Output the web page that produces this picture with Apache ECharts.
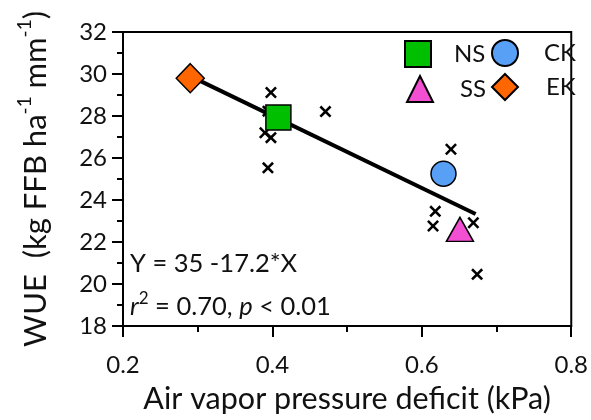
<!DOCTYPE html>
<html>
<head>
<meta charset="utf-8">
<script src="https://cdn.jsdelivr.net/npm/echarts@6/dist/echarts.min.js"></script>
<style>
  html, body { margin: 0; padding: 0; background: #fff; }
  #chart { width: 591px; height: 420px; }
</style>
</head>
<body>
<div id="chart"></div>
<script>
// Individual plot observations (VPD in kPa, WUE)
const obsVpd = [0.398, 0.471, 0.390, 0.398, 0.394, 0.394, 0.639, 0.618, 0.615, 0.669, 0.674];
const obsWue = [29.12, 28.21, 27.20, 26.97, 25.53, 28.23, 26.42, 23.46, 22.76, 22.92, 20.46];

// Group means
const groupNames = ['NS', 'CK', 'SS', 'EK'];
const groupVpd = [0.408, 0.629, 0.651, 0.290];
const groupWue = [27.93, 25.25, 22.60, 29.80];

// Fitted regression line end points
const fitVpd = [0.290, 0.672];
const fitWue = [29.90, 23.33];

// Axis ticks
const xTicks = [0.2, 0.4, 0.6, 0.8];
const yTicks = [18, 20, 22, 24, 26, 28, 30, 32];

const FONT = 'Lato';
const crossPath = 'path://M0,1.5 L1.5,0 L5,3.5 L8.5,0 L10,1.5 L6.5,5 L10,8.5 L8.5,10 L5,6.5 L1.5,10 L0,8.5 L3.5,5 Z';

const groupStyle = {
  NS: { symbol: 'rect', size: 25, color: '#00bf00' },
  CK: { symbol: 'circle', size: 25, color: '#58a0f6' },
  SS: { symbol: 'triangle', size: [27, 24], color: '#f24fd2' },
  EK: { symbol: 'diamond', size: [28, 29], color: '#ff6600' }
};

const chart = echarts.init(document.getElementById('chart'), null, { renderer: 'canvas' });

const groupSeries = groupNames.map((name, i) => ({
  name: name,
  type: 'scatter',
  z: 5,
  symbol: groupStyle[name].symbol,
  symbolSize: groupStyle[name].size,
  itemStyle: { color: groupStyle[name].color, borderColor: '#000', borderWidth: 1.5, opacity: 1 },
  data: [[groupVpd[i], groupWue[i]]]
}));

const legendPos = {
  NS: { left: 404, top: 40, pad: 18 },
  CK: { left: 491, top: 39, pad: 21 },
  SS: { left: 406, top: 75, pad: 22 },
  EK: { left: 491, top: 73, pad: 23 }
};

const legends = groupNames.map(name => ({
  data: [name],
  left: legendPos[name].left,
  top: legendPos[name].top,
  padding: 0,
  itemWidth: 26,
  itemHeight: 26,
  selectedMode: false,
  textStyle: { fontFamily: FONT, fontSize: 24, color: '#111', padding: [0, 0, 0, legendPos[name].pad] }
}));

const axisCommon = {
  axisLine: { show: true, lineStyle: { color: '#000', width: 2 } },
  axisTick: { show: true, inside: false, length: 11, lineStyle: { color: '#000', width: 2 } },
  minorTick: { show: true, splitNumber: 2, length: 6, lineStyle: { color: '#000', width: 2 } },
  splitLine: { show: false },
  minorSplitLine: { show: false }
};

chart.setOption({
  animation: false,
  backgroundColor: '#fff',
  grid: { left: 123, right: 19, top: 32, bottom: 88, show: true, borderColor: '#000', borderWidth: 2, backgroundColor: 'transparent' },
  legend: legends,
  xAxis: Object.assign({
    type: 'value',
    min: xTicks[0],
    max: xTicks[xTicks.length - 1],
    interval: 0.2,
    name: 'Air vapor pressure deficit (kPa)',
    nameLocation: 'middle',
    nameGap: 58,
    nameTextStyle: { fontFamily: FONT, fontSize: 30.5, color: '#111' },
    axisLabel: { fontFamily: FONT, fontSize: 24, color: '#111', margin: 27, formatter: v => v.toFixed(1) }
  }, axisCommon),
  yAxis: Object.assign({
    type: 'value',
    min: yTicks[0],
    max: yTicks[yTicks.length - 1],
    interval: 2,
    name: '{a|WUE  (kg FFB ha}{s|-1}{a| mm}{s|-1}{a|)}',
    nameLocation: 'middle',
    nameGap: 66,
    nameRotate: 90,
    nameTextStyle: {
      color: '#111',
      rich: {
        a: { fontFamily: FONT, fontSize: 31, color: '#111', lineHeight: 42 },
        s: { fontFamily: FONT, fontSize: 19, color: '#111', lineHeight: 42, verticalAlign: 'top' }
      }
    },
    axisLabel: { fontFamily: FONT, fontSize: 24, color: '#111', margin: 16 }
  }, axisCommon),
  graphic: [
    {
      type: 'text', left: 130, top: 251,
      style: { text: 'Y = 35 -17.2*X', fontFamily: FONT, fontSize: 25.5, fill: '#111' }
    },
    {
      type: 'text', left: 130, top: 290,
      style: {
        text: '{i|r}{s|2}{n| = 0.70, }{i|p}{n| < 0.01}',
        rich: {
          i: { fontFamily: FONT, fontSize: 25.5, fontStyle: 'italic', fill: '#111', lineHeight: 34 },
          n: { fontFamily: FONT, fontSize: 25.5, fill: '#111', lineHeight: 34 },
          s: { fontFamily: FONT, fontSize: 17, fill: '#111', lineHeight: 34, verticalAlign: 'top' }
        }
      }
    }
  ],
  series: [
    {
      name: 'obs',
      type: 'scatter',
      z: 2,
      symbol: crossPath,
      symbolSize: 12,
      itemStyle: { color: '#000', opacity: 1 },
      data: obsVpd.map((v, i) => [v, obsWue[i]])
    },
    {
      name: 'fit',
      type: 'line',
      z: 3,
      symbol: 'none',
      lineStyle: { color: '#000', width: 4 },
      data: fitVpd.map((v, i) => [v, fitWue[i]])
    }
  ].concat(groupSeries)
});
</script>
</body>
</html>
